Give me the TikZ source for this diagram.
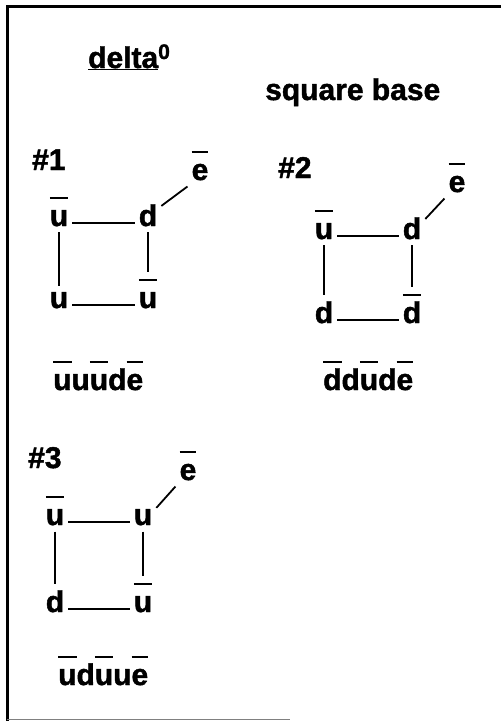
\documentclass[tikz,border=0pt]{standalone}
\usepackage{fontspec}
\setmainfont[BoldFeatures={FakeBold=1.5}]{Liberation Sans}
\usepackage{tikz}
\tikzstyle{quark} = [font=\bfseries\fontsize{30}{34}\selectfont, inner xsep=4pt, inner ysep=6pt, anchor=base]
\tikzstyle{txt} = [font=\bfseries\fontsize{30}{34}\selectfont, inner sep=0pt, anchor=base west]
\tikzstyle{link} = [line width=1.8pt]
\newcommand{\ovl}[1]{\leavevmode\setbox0\hbox{#1}\rlap{\rule[0.9em]{\wd0}{0.08em}}\box0}

\begin{document}
\begin{tikzpicture}[x=1pt,y=-1pt]
\useasboundingbox (0,0) rectangle (501,721);
%frame
\draw[line width=3pt] (7,721) -- (7,6) -- (501,6);
\draw[gray, line width=0.8pt] (7,719.5) -- (290,719.5);
%titles
\node[txt] (title) at (88,68) {\underline{delta}\textsuperscript{0}};
\node[txt] (base) at (265,100) {square base};

%#1
\node[txt] (n1) at (32,170) {\#1};
\node[quark] (a1) at (59,226) {\ovl{u}};
\node[quark] (b1) at (148,226) {d};
\node[quark] (c1) at (59,308) {u};
\node[quark] (d1) at (148,308) {\ovl{u}};
\node[quark] (e1) at (200,180) {\ovl{e}};
\node[txt] (w1) at (53,390) {\ovl{u}u\ovl{u}d\ovl{e}};
\draw[link] (a1.mid east) -- (b1.mid west);
\draw[link] (c1.mid east) -- (d1.mid west);
\draw[link] (a1.south) -- (c1.north);
\draw[link] (b1.south) -- (d1.north);
\draw[link] (b1.35) -- (e1.south west);

%#2
\node[txt] (n2) at (278,178) {\#2};
\node[quark] (a2) at (324,239) {\ovl{u}};
\node[quark] (b2) at (412,239) {d};
\node[quark] (c2) at (324,323) {d};
\node[quark] (d2) at (412,323) {\ovl{d}};
\node[quark] (e2) at (457,192) {\ovl{e}};
\node[txt] (w2) at (323,390) {\ovl{d}d\ovl{u}d\ovl{e}};
\draw[link] (a2.mid east) -- (b2.mid west);
\draw[link] (c2.mid east) -- (d2.mid west);
\draw[link] (a2.south) -- (c2.north);
\draw[link] (b2.south) -- (d2.north);
\draw[link] (b2.35) -- (e2.south west);

%#3
\node[txt] (n3) at (28,468) {\#3};
\node[quark] (a3) at (55,525) {\ovl{u}};
\node[quark] (b3) at (143,525) {u};
\node[quark] (c3) at (55,612) {d};
\node[quark] (d3) at (143,612) {\ovl{u}};
\node[quark] (e3) at (188,480) {\ovl{e}};
\node[txt] (w3) at (58,685) {\ovl{u}d\ovl{u}u\ovl{e}};
\draw[link] (a3.mid east) -- (b3.mid west);
\draw[link] (c3.mid east) -- (d3.mid west);
\draw[link] (a3.south) -- (c3.north);
\draw[link] (b3.south) -- (d3.north);
\draw[link] (b3.35) -- (e3.south west);
\end{tikzpicture}
\end{document}
